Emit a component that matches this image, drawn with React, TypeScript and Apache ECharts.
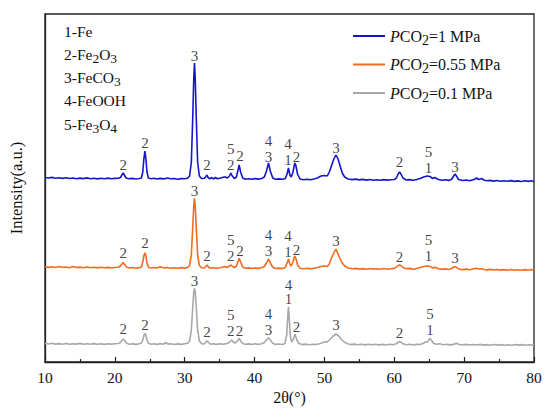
import React, { useEffect, useRef } from 'react';
import * as echarts from 'echarts';

const FONT = "'Times New Roman', 'Liberation Serif', serif";

const seriesNames = ['PCO2=1 MPa', 'PCO2=0.55 MPa', 'PCO2=0.1 MPa'];
const legendRichText = [
  '{i|P}{n|CO}{s|2}{n|=1 MPa}',
  '{i|P}{n|CO}{s|2}{n|=0.55 MPa}',
  '{i|P}{n|CO}{s|2}{n|=0.1 MPa}',
];
const seriesColors = ['#1616c8', '#f46a1e', '#a8a8a8'];

const phaseKey = [
  '{n|1-Fe}',
  '{n|2-Fe}{s|2}{n|O}{s|3}',
  '{n|3-FeCO}{s|3}',
  '{n|4-FeOOH}',
  '{n|5-Fe}{s|3}{n|O}{s|4}',
];

const xTickMin = 10;
const xTickMax = 80;
const xTickStep = 10;

// Diffraction patterns: [2θ, intensity (a.u., stacked offset)]
const blueData: number[][] = [
  [10,184.5],[10.5,184],[11,184.6],[11.5,183.8],[12,184.2],[12.5,183.6],[13,184.3],[13.5,183.5],[14,184],[14.5,183.2],
  [15,183.9],[15.5,183.4],[16,184.1],[16.5,183.3],[17,183.8],[17.5,183.1],[18,183.7],[18.5,183.2],[19,183.9],[19.5,183.3],
  [20,183.6],[20.5,183.8],[20.8,184.5],[21.0,187],[21.2,189],[21.4,186.5],[21.6,184],[22,183.2],[22.5,183.6],[23,183],
  [23.5,183.5],[23.8,184],[24.0,190],[24.15,203],[24.3,211],[24.45,203],[24.6,190],[24.8,184],[25.2,183.2],[25.6,183.7],
  [26,183],[26.5,183.6],[27,183.1],[27.5,184],[28,183.2],[28.5,183.5],[29,182.8],[29.5,183.4],[30,183.2],[30.4,183.8],
  [30.7,186],[30.95,200],[31.15,245],[31.3,285],[31.4,299],[31.5,285],[31.65,245],[31.85,200],[32.1,186],[32.4,183.5],
  [32.8,183.8],[33.0,185],[33.15,187],[33.35,184.5],[33.6,183.2],[33.9,184.5],[34.1,183],[34.4,184.5],[34.7,183.2],[35,183.8],
  [35.4,184.6],[35.8,185],[36.1,184],[36.4,186],[36.6,189],[36.8,186],[37.1,183.5],[37.4,185],[37.6,191],[37.8,197],
  [38.0,190],[38.3,184],[38.7,182.8],[39.2,183.2],[39.6,182.7],[40,183.4],[40.5,182.9],[41,183.5],[41.4,185],[41.7,191],
  [42.0,199],[42.25,191],[42.6,184],[43,182.8],[43.5,183.1],[44,182.7],[44.4,183.5],[44.65,188],[44.85,194],[45.05,187],
  [45.25,185],[45.5,190],[45.75,199],[45.9,197],[46.15,188],[46.5,183],[47,182.3],[47.5,182.8],[48,182.2],[48.5,183],
  [49,184],[49.5,186],[50,186.5],[50.4,186],[50.7,190],[51.0,196],[51.35,203],[51.65,207],[51.95,203],[52.25,196],
  [52.55,189],[52.9,185],[53.4,183],[54,182.4],[54.5,182.9],[55,182.1],[55.5,182.6],[56,181.9],[56.5,182.5],[57,181.8],
  [57.5,182.3],[58,181.7],[58.5,182.4],[59,181.9],[59.5,182.2],[60,182.5],[60.3,184],[60.55,188],[60.75,190],[60.95,188],
  [61.25,184],[61.7,182],[62.2,182.4],[62.7,181.7],[63.2,182.5],[63.7,183.5],[64.2,185],[64.7,186],[65.1,185.5],[65.5,183.5],
  [65.8,184.5],[66.3,182.5],[66.8,181.7],[67.3,182.2],[67.8,181.6],[68.2,182.8],[68.5,186],[68.7,188],[68.9,186],[69.2,182.5],
  [69.8,181.5],[70.3,182],[70.8,181.3],[71.4,182.5],[71.8,184],[72.1,182.5],[72.5,183.5],[72.9,181.8],[73.3,181.2],[73.7,181.6],
  [74.2,180.9],[74.7,181.5],[75.2,180.8],[75.7,181.3],[76.2,180.7],[76.7,181.4],[77.2,180.6],[77.7,181.1],[78.2,180.5],[78.7,181.2],
  [79.2,180.6],[79.6,181.3],[80,180.5],
];

const orangeData: number[][] = [
  [10,95.3],[10.5,94.6],[11,95.2],[11.5,94.5],[12,95.5],[12.5,94.7],[13,95],[13.5,94.3],[14,95.4],[14.5,94.5],
  [15,94.9],[15.5,94.3],[16,95],[16.5,94.2],[17,94.7],[17.5,94.1],[18,94.8],[18.5,94.2],[19,94.6],[19.5,94],
  [20,94.5],[20.5,94.8],[20.8,96],[21.0,98],[21.2,99.3],[21.4,97.5],[21.7,94.8],[22.1,94],[22.5,94.5],[23,93.8],
  [23.5,94.4],[23.8,95],[24.0,100],[24.15,106],[24.3,109.3],[24.45,106],[24.6,99],[24.8,94.8],[25.2,94],[25.6,94.5],
  [26,93.9],[26.5,95.2],[27,94],[27.5,94.5],[28,93.8],[28.5,94.3],[29,93.7],[29.5,94.4],[30,93.9],[30.4,94.5],
  [30.7,96.5],[30.95,107],[31.15,135],[31.3,157],[31.4,163.7],[31.5,157],[31.65,135],[31.85,107],[32.1,96.5],[32.4,94.3],
  [32.8,94],[33.0,95.5],[33.2,97],[33.4,95],[33.7,93.8],[34.1,94.3],[34.5,93.7],[35,94.2],[35.4,94.8],[35.7,95.5],
  [36,94.5],[36.3,95.5],[36.6,97],[36.85,95.5],[37.1,94.5],[37.4,96],[37.6,100],[37.8,103.7],[38.0,100],[38.3,95],
  [38.7,93.7],[39.2,94.1],[39.6,93.5],[40,94],[40.5,93.6],[41,94.2],[41.4,95.5],[41.7,99],[42.0,103],[42.25,99],
  [42.6,94.8],[43,93.5],[43.5,93.9],[44,93.4],[44.4,94.5],[44.65,99],[44.85,103],[45.05,98],[45.25,96],[45.5,100],
  [45.75,106],[45.9,104],[46.15,97],[46.5,93.8],[47,93.2],[47.5,93.7],[48,93.1],[48.5,93.8],[49,94.5],[49.5,95.5],
  [50,96],[50.4,95.5],[50.7,98],[51.0,104],[51.35,109],[51.65,113],[51.95,108],[52.25,103],[52.55,99],[52.9,96],
  [53.4,94],[54,93.2],[54.5,93.6],[55,92.9],[55.5,93.4],[56,92.8],[56.5,93.5],[57,92.9],[57.5,93.3],[58,92.7],
  [58.5,93.5],[59,92.8],[59.5,93.3],[60,93.6],[60.3,95],[60.55,96.5],[60.75,97],[60.95,96.5],[61.25,94.5],[61.7,93.2],
  [62.2,93.6],[62.7,92.8],[63.2,93.5],[63.7,94.5],[64.2,95.5],[64.7,96],[65.1,95.6],[65.5,94],[65.8,94.8],[66.3,93.2],
  [66.8,92.6],[67.3,93.1],[67.8,92.5],[68.2,93.5],[68.5,95],[68.7,95.3],[68.9,94.8],[69.2,93],[69.8,92.4],[70.3,92.9],
  [70.8,92.3],[71.4,93.2],[71.8,93.8],[72.1,93],[72.5,93.3],[72.9,92.5],[73.3,92.1],[73.7,92.6],[74.2,92],[74.7,92.5],
  [75.2,91.9],[75.7,92.4],[76.2,91.8],[76.7,92.5],[77.2,91.8],[77.7,92.2],[78.2,91.7],[78.7,92.4],[79.2,91.8],[79.6,92.5],
  [80,91.9],
];

const grayData: number[][] = [
  [10,18.6],[10.5,18],[11,18.7],[11.5,17.9],[12,18.4],[12.5,17.8],[13,18.5],[13.5,17.7],[14,18.3],[14.5,17.9],
  [15,18.6],[15.5,17.8],[16,18.2],[16.5,17.7],[17,18.4],[17.5,17.8],[18,18.3],[18.5,17.6],[19,18.2],[19.5,17.9],
  [20,18.3],[20.5,18.5],[20.8,19.5],[21.0,21.5],[21.2,23],[21.4,21.5],[21.7,18.8],[22.1,17.8],[22.5,18.3],[23,17.6],
  [23.5,18.2],[23.8,18.8],[24.0,22],[24.15,26.5],[24.3,28.7],[24.45,26.5],[24.6,22],[24.8,18.7],[25.2,17.8],[25.6,18.3],
  [26,17.6],[26.5,18.2],[27,18],[27.3,19.5],[27.6,17.9],[28,18.2],[28.5,17.5],[29,18.1],[29.5,17.6],[30,18.3],
  [30.4,18.8],[30.7,21],[30.95,32],[31.15,55],[31.3,70],[31.4,73.7],[31.5,70],[31.65,55],[31.85,32],[32.1,21],
  [32.4,18.4],[32.8,18],[33.0,19.5],[33.2,21.3],[33.4,19.5],[33.7,17.8],[34.1,18.3],[34.5,17.6],[35,18.2],[35.5,17.8],
  [36,18.4],[36.4,19.5],[36.7,22],[36.95,20],[37.2,18.8],[37.5,20.5],[37.8,23.7],[38.05,20.5],[38.4,18.2],[38.8,17.6],
  [39.2,18.1],[39.6,17.5],[40,18.2],[40.5,17.6],[41,18.3],[41.4,19.5],[41.7,22],[42.0,24.3],[42.25,22],[42.6,18.8],
  [43,17.6],[43.5,18],[44,17.5],[44.35,18.5],[44.6,27],[44.75,45],[44.85,55.3],[44.95,45],[45.1,27],[45.3,20],
  [45.5,22],[45.8,27.7],[46.05,22],[46.35,18.5],[46.8,17.4],[47.3,17.9],[47.8,17.3],[48.3,17.8],[48.8,17.5],[49.3,18.3],
  [49.8,19.5],[50.1,20.3],[50.4,20],[50.8,22.5],[51.25,26],[51.65,28],[52.05,26],[52.45,22.5],[52.85,20],[53.3,18.3],
  [53.8,17.4],[54.3,17.9],[54.8,17.2],[55.3,17.8],[55.8,17.1],[56.3,17.7],[56.8,17.2],[57.3,17.8],[57.8,17.1],[58.3,17.6],
  [58.8,17],[59.3,17.7],[59.8,17.3],[60.3,18.3],[60.55,19.8],[60.75,20.3],[60.95,19.8],[61.25,18.2],[61.7,17.2],[62.2,17.7],
  [62.7,17],[63.2,17.6],[63.7,17.5],[64.1,18.5],[64.45,20],[64.75,20.3],[64.95,22],[65.1,23.7],[65.3,22],[65.6,18.8],
  [66.0,17.8],[66.5,18.3],[67,17.3],[67.5,17.8],[68,17.1],[68.5,17.6],[68.9,18.8],[69.3,17.5],[69.8,17],[70.3,17.6],
  [70.8,17],[71.3,17.5],[71.8,17],[72.3,17.6],[72.8,16.9],[73.3,17.4],[73.8,16.8],[74.3,17.5],[74.8,16.9],[75.3,17.4],
  [75.8,16.8],[76.3,17.3],[76.8,16.8],[77.3,17.5],[77.8,16.9],[78.3,17.4],[78.8,16.8],[79.3,17.3],[79.7,17],[80,17.4],
];

// Peak labels: [2θ, anchor intensity, phase number]
const blueLabels: [number, number, string][] = [
  [21.2, 190, '2'], [24.3, 212, '2'], [31.4, 299, '3'], [33.2, 190, '2'],
  [36.6, 190, '2'], [36.6, 206, '5'],
  [37.9, 199, '2'],
  [42.0, 198, '3'], [42.0, 214, '4'],
  [44.8, 195, '1'], [44.8, 211, '4'],
  [46.0, 198, '2'], [51.65, 207, '3'], [60.75, 193, '2'],
  [64.9, 187, '1'], [64.9, 203, '5'],
  [68.7, 188, '3'],
];
const orangeLabels: [number, number, string][] = [
  [21.2, 101.7, '2'], [24.3, 111.7, '2'], [31.4, 163.5, '3'], [33.2, 99.3, '2'],
  [36.6, 99.3, '2'], [36.6, 115.3, '5'],
  [37.9, 104.3, '2'],
  [42.0, 104.3, '3'], [42.0, 120.3, '4'],
  [44.8, 103.3, '1'], [44.8, 119.3, '4'],
  [46.0, 105, '2'], [51.65, 114.3, '3'], [60.75, 98.3, '2'],
  [64.9, 99.3, '1'], [64.9, 115.3, '5'],
  [68.7, 96.7, '3'],
];
const grayLabels: [number, number, string][] = [
  [21.2, 25.7, '2'], [24.3, 30, '2'], [31.4, 74.3, '3'], [33.2, 23.3, '2'],
  [36.6, 24, '2'], [36.6, 40, '5'],
  [37.85, 24, '2'],
  [42.0, 25, '3'], [42.0, 41, '4'],
  [44.85, 55.5, '1'], [44.85, 70, '4'],
  [46.0, 28.3, '2'], [51.65, 30, '3'], [60.75, 22.3, '2'],
  [65.1, 25, '1'], [65.1, 41, '5'],
];

const yMin = 0;
const yMax = 348;

export default function App() {
  const ref = useRef<HTMLDivElement>(null);

  useEffect(() => {
    document.body.style.margin = '0';
    if (!ref.current) return;
    const chart = echarts.init(ref.current, undefined, { renderer: 'svg' });

    const labelSeries = (labels: [number, number, string][], id: string) => ({
      type: 'scatter',
      name: id,
      silent: true,
      symbolSize: 0.1,
      itemStyle: { color: 'rgba(0,0,0,0)' },
      z: 5,
      data: labels.map(([x, y, t]) => ({ value: [x, y], label: { formatter: t } })),
      label: {
        show: true,
        position: 'top',
        distance: 0,
        color: '#111',
        fontSize: 15,
        lineHeight: 14,
        fontFamily: FONT,
      },
    });

    const richLegend = {
      i: { fontStyle: 'italic', fontSize: 16, fontFamily: FONT, color: '#111', lineHeight: 22 },
      n: { fontSize: 16, fontFamily: FONT, color: '#111', lineHeight: 22 },
      s: { fontSize: 14, fontFamily: FONT, color: '#111', lineHeight: 12, verticalAlign: 'bottom' },
    };

    const richKey = {
      n: { fontSize: 15.5, fontFamily: FONT, fill: '#111', lineHeight: 22 },
      s: { fontSize: 13.5, fontFamily: FONT, fill: '#111', lineHeight: 12, verticalAlign: 'bottom' },
    };

    const datasets = [blueData, orangeData, grayData];

    chart.setOption({
      animation: false,
      grid: {
        left: 43, right: 16, top: 14, bottom: 51,
        show: true, borderColor: '#222', borderWidth: 1.3,
      },
      xAxis: {
        type: 'value',
        min: xTickMin, max: xTickMax, interval: xTickStep,
        name: '2θ(°)',
        nameLocation: 'middle',
        nameGap: 25,
        nameTextStyle: { fontFamily: FONT, fontSize: 16, color: '#111' },
        axisLine: { show: true, lineStyle: { color: '#222', width: 1.3 } },
        axisTick: { show: true, inside: true, length: 5, lineStyle: { color: '#222', width: 1.2 } },
        minorTick: { show: true, splitNumber: 2, length: 3, lineStyle: { color: '#222', width: 1.2 } },
        axisLabel: { margin: 7, fontFamily: FONT, fontSize: 15.5, color: '#111' },
        splitLine: { show: false },
      },
      yAxis: {
        type: 'value',
        min: yMin, max: yMax,
        name: 'Intensity(a.u.)',
        nameLocation: 'middle',
        nameGap: 20,
        nameTextStyle: { fontFamily: FONT, fontSize: 16.5, color: '#111' },
        axisLine: { show: true, lineStyle: { color: '#222', width: 1.3 } },
        axisTick: { show: false },
        axisLabel: { show: false },
        splitLine: { show: false },
      },
      legend: {
        data: seriesNames.map((n) => ({ name: n, icon: 'rect' })),
        orient: 'vertical',
        left: 353,
        top: 28,
        padding: 0,
        itemWidth: 32,
        itemHeight: 2,
        itemGap: 9.5,
        formatter: (name: string) => legendRichText[seriesNames.indexOf(name)],
        textStyle: { fontFamily: FONT, fontSize: 16, color: '#111', rich: richLegend },
      },
      graphic: phaseKey.map((t, i) => ({
        type: 'text',
        x: 64,
        y: 31 + i * 23.3,
        silent: true,
        style: {
          text: t,
          rich: richKey,
          fontSize: 15.5,
          fontFamily: FONT,
          fill: '#111',
          verticalAlign: 'middle',
          align: 'left',
        },
      })),
      series: [
        ...datasets.map((d, i) => ({
          type: 'line',
          name: seriesNames[i],
          data: d,
          symbol: 'none',
          showSymbol: false,
          color: seriesColors[i],
          lineStyle: { color: seriesColors[i], width: 1.6 },
          z: 3,
        })),
        labelSeries(blueLabels, 'lb1'),
        labelSeries(orangeLabels, 'lb2'),
        labelSeries(grayLabels, 'lb3'),
      ],
    });

    return () => chart.dispose();
  }, []);

  return (
    <div
      ref={ref}
      style={{ position: 'absolute', left: 0, top: 0, width: 550, height: 413 }}
    />
  );
}
